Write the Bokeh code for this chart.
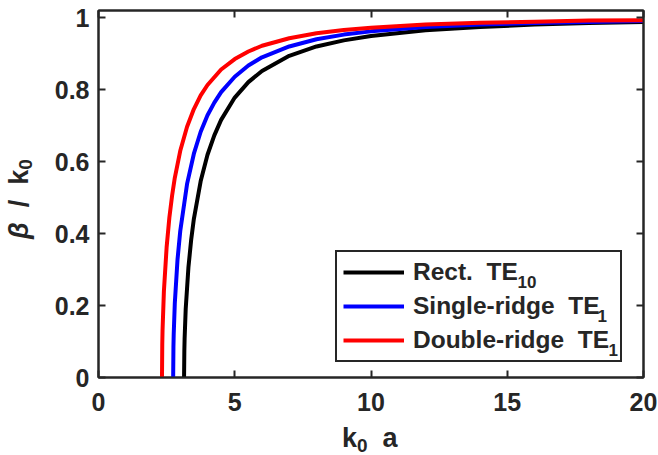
from bokeh.plotting import figure
from bokeh.models import LinearAxis, FixedTicker, Range1d, Legend, LegendItem, Label, Div
from bokeh.layouts import row, column
from bokeh.embed import file_html
from bokeh.resources import INLINE

# ---- data ----
rect_x = [3.14, 3.15, 3.16, 3.2, 3.3, 3.4, 3.5, 3.75, 4, 4.25, 4.5, 5, 5.5, 6, 7, 8, 9, 10, 12, 14, 16, 18, 20]
rect_y = [0, .073, .108, .190, .306, .382, .441, .546, .619, .673, .716, .778, .821, .852, .894, .920, .937, .949, .965, .974, .981, .985, .988]

single_x = [2.74, 2.75, 2.76, 2.8, 2.9, 3.0, 3.25, 3.5, 3.75, 4, 4.25, 4.5, 5, 5.5, 6, 7, 8, 9, 10, 12, 14, 16, 18, 20]
single_y = [0, .085, .120, .206, .328, .407, .538, .622, .683, .729, .764, .793, .836, .867, .890, .920, .940, .953, .962, .974, .981, .985, .988, .991]

double_x = [2.33, 2.34, 2.35, 2.4, 2.5, 2.6, 2.7, 2.8, 3.0, 3.25, 3.5, 3.75, 4, 4.5, 5, 5.5, 6, 7, 8, 9, 10, 12, 14, 16, 18, 20]
double_y = [0, .092, .130, .240, .362, .444, .505, .555, .630, .697, .746, .784, .813, .856, .885, .906, .922, .943, .957, .966, .972, .981, .986, .989, .992, .993]

x_ticks = [0, 5, 10, 15, 20]
y_ticks = [0, 0.2, 0.4, 0.6, 0.8, 1]
y_tick_labels = ["0", "0.2", "0.4", "0.6", "0.8", "1"]
legend_main = ["Rect.  TE", "Single-ridge  TE", "Double-ridge  TE"]
legend_sub = ["10", "1", "1"]

FONT = "Liberation Sans"
AX = "#262626"

p = figure(width=618, height=425, output_backend="svg", toolbar_location=None,
           x_range=Range1d(0, 20), y_range=Range1d(0, 1.02),
           x_axis_location=None, y_axis_location=None,
           min_border_left=58, min_border_right=15, min_border_top=10, min_border_bottom=48)
p.background_fill_color = "white"
p.border_fill_color = "white"
p.xgrid.visible = False
p.ygrid.visible = False
p.outline_line_color = AX
p.outline_line_width = 2


def style_axis(ax, ticks, show_labels):
    ax.ticker = FixedTicker(ticks=ticks)
    ax.axis_line_color = AX
    ax.axis_line_width = 2
    ax.major_tick_line_color = AX
    ax.major_tick_line_width = 2
    ax.major_tick_in = 7
    ax.major_tick_out = 0
    ax.minor_tick_line_color = None
    ax.major_label_text_font = FONT
    ax.major_label_text_font_style = "bold"
    ax.major_label_text_color = AX
    if show_labels:
        ax.major_label_text_font_size = "25px"
    else:
        ax.major_label_text_font_size = "1px"
        ax.major_label_standoff = 0
        ax.major_label_overrides = {t: "" for t in ticks}


xb = LinearAxis()
style_axis(xb, x_ticks, True)
xb.major_label_standoff = 15
p.add_layout(xb, "below")

yl = LinearAxis()
style_axis(yl, y_ticks, True)
yl.major_label_standoff = 9
yl.major_label_overrides = {t: s for t, s in zip(y_ticks, y_tick_labels)}
p.add_layout(yl, "left")

xt = LinearAxis()
style_axis(xt, x_ticks, False)
p.add_layout(xt, "above")

yr = LinearAxis()
style_axis(yr, y_ticks, False)
p.add_layout(yr, "right")

r1 = p.line(rect_x, rect_y, line_color="#000000", line_width=4, line_join="round")
r2 = p.line(single_x, single_y, line_color="#0000FF", line_width=4, line_join="round")
r3 = p.line(double_x, double_y, line_color="#FF0000", line_width=4, line_join="round")

legend = Legend(items=[LegendItem(label=legend_main[0], renderers=[r1]),
                       LegendItem(label=legend_main[1], renderers=[r2]),
                       LegendItem(label=legend_main[2], renderers=[r3])],
                location=(237, 15))
legend.label_text_font = FONT
legend.label_text_font_style = "bold"
legend.label_text_font_size = "24.5px"
legend.label_text_color = AX
legend.glyph_width = 61
legend.glyph_height = 24
legend.label_height = 24
legend.label_width = 201
legend.spacing = 6
legend.padding = 6
legend.margin = 0
legend.label_standoff = 9
legend.border_line_color = AX
legend.border_line_alpha = 1
legend.border_line_width = 2
legend.background_fill_alpha = 0
p.add_layout(legend, "center")

# subscripts of the legend entries (screen units relative to the frame)
for txt, sx, sy in zip(legend_sub, [419, 499, 510], [95.5, 61.5, 27.5]):
    p.add_layout(Label(x=sx, y=sy, x_units="screen", y_units="screen", text=txt,
                       text_font=FONT, text_font_style="bold", text_font_size="17px",
                       text_color=AX, text_align="left", text_baseline="alphabetic"))

TXT = "font-family:'Liberation Sans';font-weight:bold;color:#262626;white-space:nowrap;"

ylabel_html = (
    '<div style="position:relative;width:40px;height:455px;">'
    '<div style="position:absolute;left:6px;top:239px;transform-origin:0 0;'
    'transform:rotate(-90deg);font-size:27px;line-height:27px;' + TXT + '">'
    '<i>\u03b2</i>&nbsp;&nbsp;/&nbsp;&nbsp;k'
    '<span style="font-size:19px;position:relative;top:4px;">0</span>'
    '</div></div>'
)
xlabel_html = (
    '<div style="position:relative;width:618px;height:30px;">'
    '<div style="position:absolute;left:302px;top:0px;font-size:27px;line-height:27px;' + TXT + '">'
    'k<span style="font-size:19px;position:relative;top:5px;">0</span>&nbsp;&nbsp;a'
    '</div></div>'
)

ydiv = Div(text=ylabel_html, width=40, height=455, margin=(0, 0, 0, 0))
xdiv = Div(text=xlabel_html, width=618, height=30, margin=(0, 0, 0, 0))

layout = row(ydiv, column(p, xdiv, spacing=0), spacing=0)

open("out.html", "w").write(file_html(layout, INLINE))
